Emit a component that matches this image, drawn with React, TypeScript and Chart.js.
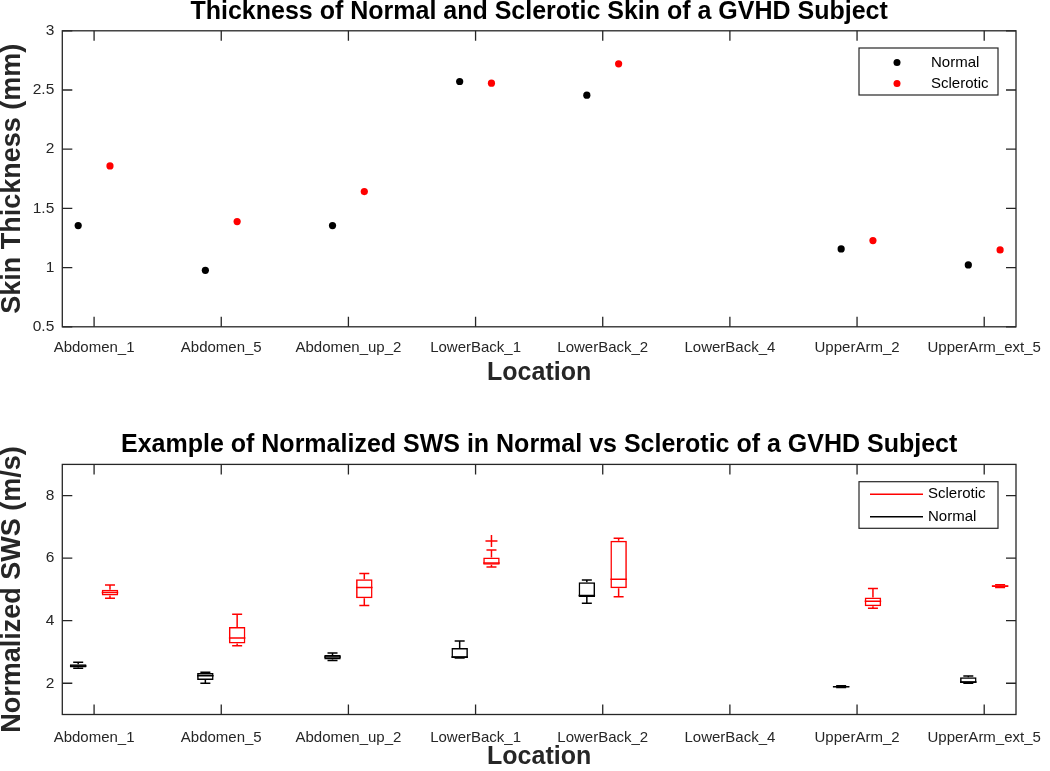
import React, { useEffect, useRef } from 'react';
import { Chart, registerables } from 'chart.js';

Chart.register(...registerables);

// ---------------- data ----------------
const locations = ['Abdomen_1', 'Abdomen_5', 'Abdomen_up_2', 'LowerBack_1', 'LowerBack_2', 'LowerBack_4', 'UpperArm_2', 'UpperArm_ext_5'];

// Skin thickness (mm)
const thicknessNormal: (number | null)[] = [1.355, 0.977, 1.355, 2.572, 2.456, null, 1.158, 1.023];
const thicknessSclerotic: (number | null)[] = [1.859, 1.389, 1.642, 2.558, 2.721, null, 1.228, 1.149];

// Normalized SWS (m/s) box statistics
const swsNormalMin: (number | null)[] = [2.48, 2.0, 2.73, 2.81, 4.56, null, 1.86, 2.0];
const swsNormalQ1: (number | null)[] = [2.5, 2.1, 2.76, 2.81, 4.76, null, 1.87, 2.01];
const swsNormalMedian: (number | null)[] = [2.55, 2.24, 2.84, 2.84, 4.81, null, 1.89, 2.04];
const swsNormalQ3: (number | null)[] = [2.61, 2.33, 2.9, 3.13, 5.23, null, 1.91, 2.19];
const swsNormalMax: (number | null)[] = [2.67, 2.35, 2.97, 3.35, 5.3, null, 1.92, 2.23];

const swsSclMin: (number | null)[] = [4.72, 3.2, 4.49, 5.72, 4.77, null, 4.4, 5.06];
const swsSclQ1: (number | null)[] = [4.81, 3.27, 4.72, 5.79, 5.04, null, 4.46, 5.08];
const swsSclMedian: (number | null)[] = [4.9, 3.45, 5.06, 5.85, 5.33, null, 4.62, 5.11];
const swsSclQ3: (number | null)[] = [4.99, 3.8, 5.33, 6.02, 6.56, null, 4.74, 5.13];
const swsSclMax: (number | null)[] = [5.14, 4.21, 5.51, 6.26, 6.64, null, 5.03, 5.15];
const swsSclOutliers: { loc: number; value: number }[] = [{ loc: 3, value: 6.55 }];

const thicknessTicks = [0.5, 1, 1.5, 2, 2.5, 3];
const swsTicks = [2, 4, 6, 8];

// ---------------- styling ----------------
const FONT = '"Liberation Sans", Arial, Helvetica, sans-serif';
const AXIS = '#262626';
const RED = '#ff0000';
const BLACK = '#000000';
const OFFSET = 0.125;

const framePlugin = {
  id: 'matlabFrame',
  afterDraw(chart: any, _args: any, opts: any) {
    const { ctx, chartArea: a, scales } = chart;
    ctx.save();
    ctx.strokeStyle = opts.color;
    ctx.lineWidth = opts.lineWidth;
    ctx.strokeRect(a.left, a.top, a.right - a.left, a.bottom - a.top);
    const len = opts.tickLength;
    ctx.beginPath();
    scales.x.ticks.forEach((t: any) => {
      const px = scales.x.getPixelForValue(t.value);
      ctx.moveTo(px, a.bottom);
      ctx.lineTo(px, a.bottom - len);
      ctx.moveTo(px, a.top);
      ctx.lineTo(px, a.top + len);
    });
    scales.y.ticks.forEach((t: any) => {
      const py = scales.y.getPixelForValue(t.value);
      ctx.moveTo(a.left, py);
      ctx.lineTo(a.left + len, py);
      ctx.moveTo(a.right, py);
      ctx.lineTo(a.right - len, py);
    });
    ctx.stroke();
    ctx.restore();
  },
};

const boxLegendPlugin = {
  id: 'boxLegend',
  afterDraw(chart: any, _args: any, o: any) {
    const { ctx, chartArea: a } = chart;
    const x0 = a.right - o.right - o.width;
    const y0 = a.top + o.top;
    ctx.save();
    ctx.fillStyle = '#ffffff';
    ctx.fillRect(x0, y0, o.width, o.height);
    ctx.strokeStyle = AXIS;
    ctx.lineWidth = 1.2;
    ctx.strokeRect(x0, y0, o.width, o.height);
    ctx.font = `15px ${FONT}`;
    ctx.textBaseline = 'middle';
    ctx.textAlign = 'left';
    o.items.forEach((it: any, k: number) => {
      const y = y0 + o.rowTop + k * o.rowGap;
      if (it.kind === 'dot') {
        ctx.fillStyle = it.color;
        ctx.beginPath();
        ctx.arc(x0 + o.markerX, y, 3.5, 0, Math.PI * 2);
        ctx.fill();
      } else {
        ctx.strokeStyle = it.color;
        ctx.lineWidth = 1.5;
        ctx.beginPath();
        ctx.moveTo(x0 + o.lineStart, y);
        ctx.lineTo(x0 + o.lineEnd, y);
        ctx.stroke();
      }
      ctx.fillStyle = BLACK;
      ctx.fillText(it.label, x0 + o.textX, y);
    });
    ctx.restore();
  },
};

function xScale(height: number, labelPad: number, titlePadBottom: number) {
  return {
    type: 'linear',
    min: 0.75,
    max: 8.25,
    offset: false,
    afterBuildTicks: (s: any) => {
      s.ticks = locations.map((_, i) => ({ value: i + 1 }));
    },
    afterFit: (s: any) => {
      s.height = height;
      s.paddingLeft = 0;
      s.paddingRight = 0;
    },
    grid: { display: false, drawTicks: false },
    border: { display: false },
    ticks: {
      autoSkip: false,
      maxRotation: 0,
      minRotation: 0,
      padding: labelPad,
      color: AXIS,
      font: { family: FONT, size: 15 },
      callback: (v: any) => locations[Math.round(v) - 1] ?? '',
    },
    title: {
      display: true,
      text: 'Location',
      color: AXIS,
      font: { family: FONT, size: 25, weight: 'bold', lineHeight: 1 },
      padding: { top: 0, bottom: titlePadBottom },
    },
  };
}

function yScale(min: number, max: number, tickValues: number[], title: string) {
  return {
    type: 'linear',
    min,
    max,
    afterBuildTicks: (s: any) => {
      s.ticks = tickValues.map((v) => ({ value: v }));
    },
    afterFit: (s: any) => {
      s.width = 62.3;
    },
    grid: { display: false, drawTicks: false },
    border: { display: false },
    ticks: {
      padding: 8,
      color: AXIS,
      font: { family: FONT, size: 15.5 },
      callback: (v: any) => String(v),
    },
    title: {
      display: true,
      text: title,
      color: AXIS,
      font: { family: FONT, size: 27, weight: 'bold', lineHeight: 0.9 },
      padding: { top: 0, bottom: 0 },
    },
  };
}

function points(values: (number | null)[], offset: number) {
  const out: { x: number; y: number }[] = [];
  values.forEach((v, i) => {
    if (v != null) out.push({ x: i + 1 + offset, y: v });
  });
  return out;
}

function boxes(q1: (number | null)[], q3: (number | null)[], offset: number) {
  const out: { x: number; y: [number, number] }[] = [];
  q1.forEach((v, i) => {
    const w = q3[i];
    if (v != null && w != null) out.push({ x: i + 1 + offset, y: [v, w] });
  });
  return out;
}

function whiskers(lo: (number | null)[], q1: (number | null)[], q3: (number | null)[], hi: (number | null)[], offset: number) {
  const out: { x: number; y: number | null }[] = [];
  lo.forEach((_, i) => {
    if (q1[i] == null) return;
    const x = i + 1 + offset;
    out.push({ x, y: q3[i] }, { x, y: hi[i] }, { x, y: null }, { x, y: lo[i] }, { x, y: q1[i] }, { x, y: null });
  });
  return out;
}

function caps(lo: (number | null)[], hi: (number | null)[], offset: number) {
  const out: { x: number; y: number }[] = [];
  lo.forEach((v, i) => {
    const h = hi[i];
    if (v != null && h != null) out.push({ x: i + 1 + offset, y: v }, { x: i + 1 + offset, y: h });
  });
  return out;
}

function boxSeries(color: string, offset: number, lo: any, q1: any, med: any, q3: any, hi: any) {
  return [
    {
      type: 'bar',
      data: boxes(q1, q3, offset),
      backgroundColor: 'rgba(0,0,0,0)',
      borderColor: color,
      borderWidth: 1.5,
      borderSkipped: false,
      grouped: false,
      maxBarThickness: 16.5,
    },
    {
      type: 'line',
      data: whiskers(lo, q1, q3, hi, offset),
      borderColor: color,
      borderWidth: 1.5,
      pointRadius: 0,
      spanGaps: false,
    },
    {
      type: 'line',
      data: caps(lo, hi, offset),
      showLine: false,
      pointStyle: 'line',
      pointRadius: 5,
      pointBorderWidth: 1.5,
      pointBorderColor: color,
    },
    {
      type: 'line',
      data: points(med, offset),
      showLine: false,
      pointStyle: 'line',
      pointRadius: 8.25,
      pointBorderWidth: 1.5,
      pointBorderColor: color,
    },
  ];
}

export default function App() {
  const topRef = useRef<HTMLCanvasElement>(null);
  const botRef = useRef<HTMLCanvasElement>(null);

  useEffect(() => {
    const common = {
      responsive: false,
      animation: false,
      devicePixelRatio: 1,
      events: [],
    };

    const top = new Chart(topRef.current as HTMLCanvasElement, {
      type: 'scatter',
      data: {
        datasets: [
          { label: 'Normal', data: points(thicknessNormal, -OFFSET), backgroundColor: BLACK, borderWidth: 0, pointRadius: 3.6 },
          { label: 'Sclerotic', data: points(thicknessSclerotic, OFFSET), backgroundColor: RED, borderWidth: 0, pointRadius: 3.6 },
        ],
      },
      options: {
        ...common,
        layout: { padding: { left: 0, right: 34, top: 0, bottom: 0 } },
        scales: {
          x: xScale(58.2, 11.7, -1),
          y: yScale(0.5, 3, thicknessTicks, 'Skin Thickness (mm)'),
        },
        plugins: {
          legend: { display: false },
          tooltip: { enabled: false },
          title: {
            display: true,
            fullSize: false,
            text: 'Thickness of Normal and Sclerotic Skin of a GVHD Subject',
            color: BLACK,
            font: { family: FONT, size: 25, weight: 'bold', lineHeight: 0.8 },
            padding: { top: 2.6, bottom: 8.2 },
          },
          matlabFrame: { color: AXIS, lineWidth: 1.3, tickLength: 10 },
          boxLegend: {
            right: 18, top: 17.2, width: 139, height: 47,
            rowTop: 14.5, rowGap: 21, markerX: 38, textX: 72,
            items: [
              { kind: 'dot', color: BLACK, label: 'Normal' },
              { kind: 'dot', color: RED, label: 'Sclerotic' },
            ],
          },
        },
      } as any,
      plugins: [framePlugin, boxLegendPlugin],
    } as any);

    const bottomDatasets: any[] = [
      ...boxSeries(BLACK, -OFFSET, swsNormalMin, swsNormalQ1, swsNormalMedian, swsNormalQ3, swsNormalMax),
      ...boxSeries(RED, OFFSET, swsSclMin, swsSclQ1, swsSclMedian, swsSclQ3, swsSclMax),
      {
        type: 'line',
        data: swsSclOutliers.map((o) => ({ x: o.loc + 1 + OFFSET, y: o.value })),
        showLine: false,
        pointStyle: 'cross',
        pointRadius: 6,
        pointBorderWidth: 1.5,
        pointBorderColor: RED,
      },
    ];

    const bottom = new Chart(botRef.current as HTMLCanvasElement, {
      type: 'bar',
      data: { datasets: bottomDatasets },
      options: {
        ...common,
        parsing: true,
        layout: { padding: { left: 0, right: 34, top: 0, bottom: 0 } },
        scales: {
          x: xScale(56.5, 14, 1),
          y: yScale(1, 9, swsTicks, 'Normalized SWS (m/s)'),
        },
        plugins: {
          legend: { display: false },
          tooltip: { enabled: false },
          title: {
            display: true,
            fullSize: false,
            text: 'Example of Normalized SWS in Normal vs Sclerotic of a GVHD Subject',
            color: BLACK,
            font: { family: FONT, size: 25, weight: 'bold', lineHeight: 0.8 },
            padding: { top: 50, bottom: 9.4 },
          },
          matlabFrame: { color: AXIS, lineWidth: 1.3, tickLength: 10 },
          boxLegend: {
            right: 18, top: 17.3, width: 139, height: 46.6,
            rowTop: 12.6, rowGap: 22.4, lineStart: 11, lineEnd: 64, textX: 69,
            items: [
              { kind: 'line', color: RED, label: 'Sclerotic' },
              { kind: 'line', color: BLACK, label: 'Normal' },
            ],
          },
        },
      } as any,
      plugins: [framePlugin, boxLegendPlugin],
    } as any);

    return () => {
      top.destroy();
      bottom.destroy();
    };
  }, []);

  return (
    <div style={{ position: 'absolute', left: 0, top: 0, width: 1050, height: 771, background: '#ffffff' }}>
      <canvas ref={topRef} width={1050} height={385} style={{ position: 'absolute', left: 0, top: 0 }} />
      <canvas ref={botRef} width={1050} height={386} style={{ position: 'absolute', left: 0, top: 385 }} />
    </div>
  );
}
